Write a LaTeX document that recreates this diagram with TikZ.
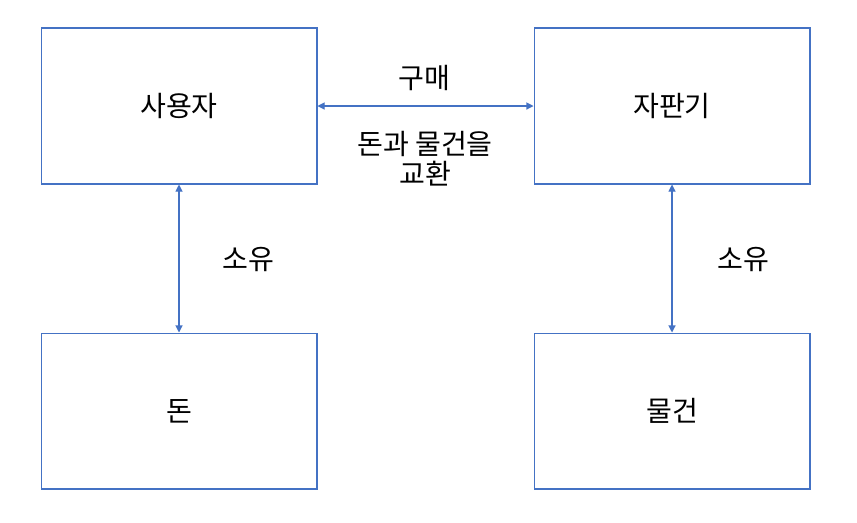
\documentclass[tikz,border=0pt]{standalone}
\usepackage{fontspec}
\newfontfamily\kr{Noto Sans CJK KR}
\usepackage{tikz}
\usetikzlibrary{
    arrows.meta,
    calc,
    positioning
}
\definecolor{boxblue}{HTML}{4472C4}

\begin{document}
\begin{tikzpicture}[x=0.02cm,y=-0.02cm,
    box/.style={draw=boxblue, line width=0.6pt, minimum width=5.52cm, minimum height=3.12cm, font=\kr\fontsize{16}{20}\selectfont},
    link/.style={draw=boxblue, line width=0.6pt, {Triangle[length=4pt,width=4pt]}-{Triangle[length=4pt,width=4pt]}},
    lbl/.style={font=\kr\fontsize{16}{20}\selectfont, align=center}
]

% Canvas
\useasboundingbox (0,0) rectangle (857,522);

% Boxes
\node[box] (user) at (179,106) {사용자};
\node[box] (vending) at (672,106) {자판기};
\node[box] (money) at (179,411) {돈};
\node[box] (goods) at (672,411) {물건};

% Purchase
\draw[link] (user.east) -- (vending.west);
\node[lbl] (buy) at (424,78) {구매};
\node[lbl] (swap) at (425,159) {돈과 물건을\\[-3pt]교환};

% Ownership
\draw[link] (user.south) -- (money.north);
\draw[link] (vending.south) -- (goods.north);
\node[lbl] (ownl) at (248,259) {소유};
\node[lbl] (ownr) at (743,259) {소유};

\end{tikzpicture}
\end{document}
